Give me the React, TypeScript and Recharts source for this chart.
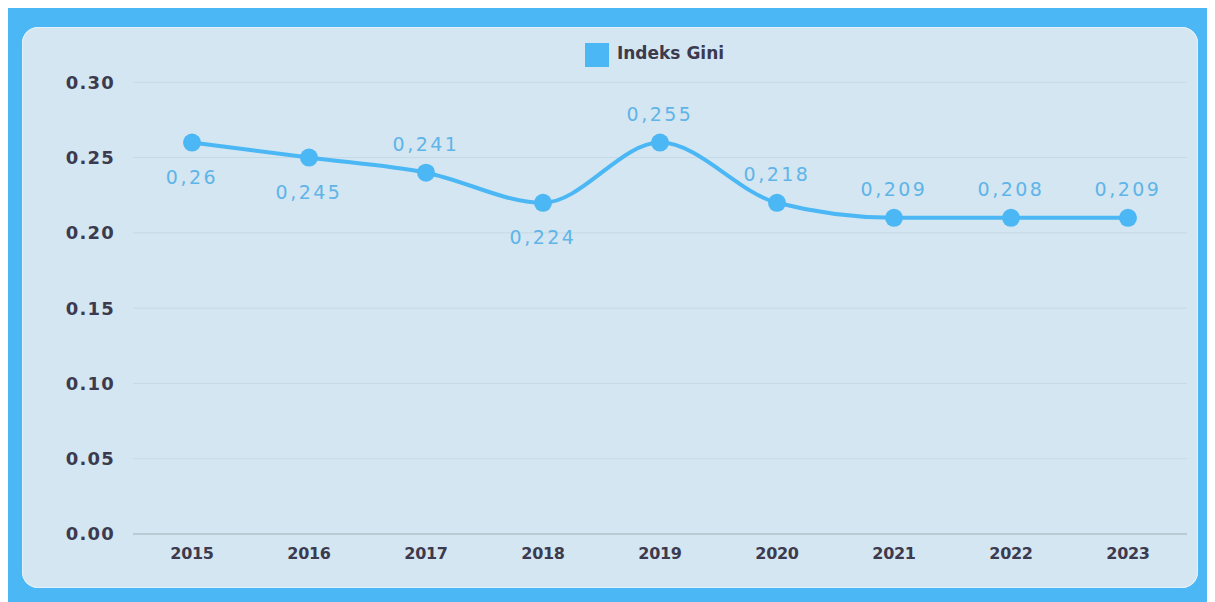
import React from "react";
import { LineChart, Line, XAxis, YAxis, CartesianGrid, Legend, LabelList } from "recharts";

const years = ["2015", "2016", "2017", "2018", "2019", "2020", "2021", "2022", "2023"];
// points sit on the 2-decimal values, the labels show the 3-decimal figure
const giniPlotted = [0.26, 0.25, 0.24, 0.22, 0.26, 0.22, 0.21, 0.21, 0.21];
const giniText = ["0,26", "0,245", "0,241", "0,224", "0,255", "0,218", "0,209", "0,208", "0,209"];
const yTicks = [0, 0.05, 0.1, 0.15, 0.2, 0.25, 0.3];

const data = years.map((year, i) => ({ year, gini: giniPlotted[i], text: giniText[i] }));

// which labels hang under their dot
const labelBelow = [true, true, false, true, false, false, false, false, false];

const BLUE = "#4bb7f4";
const INK = "#3c3a4e";

const GiniLabel = (props: any) => {
  const { x, y, index } = props;
  const below = labelBelow[index];
  return (
    <text
      x={x}
      y={below ? y + 36 : y - 27}
      textAnchor="middle"
      dominantBaseline="middle"
      fill="#5fb4e8"
      fontFamily="DejaVu Sans"
      fontSize={19}
      letterSpacing={2.5}
    >
      {giniText[index]}
    </text>
  );
};

export default function App() {
  return (
    <div style={{ width: 1207, height: 594, background: BLUE, position: "relative" }}>
      <style>{"body{overflow:hidden}"}</style>
      <div
        style={{
          position: "absolute",
          left: 14,
          top: 19,
          width: 1176,
          height: 561,
          background: "#d4e6f1",
          borderRadius: 16,
          boxShadow: "inset 0 0 0 1px #e2f1fa",
        }}
      >
        <LineChart width={1176} height={561} data={data} margin={{ top: 31, right: 11, left: 0, bottom: 0 }}>
          <CartesianGrid vertical={false} stroke="#c4d9e6" />
          <XAxis
            dataKey="year"
            padding={{ left: 59, right: 59 }}
            axisLine={{ stroke: "#a8b5be" }}
            tickLine={false}
            height={54}
            tickMargin={8}
            tick={{ fill: INK, fontFamily: "DejaVu Sans", fontWeight: 700, fontSize: 16, letterSpacing: -0.3 }}
          />
          <YAxis
            domain={[0, 0.3]}
            ticks={yTicks}
            tickFormatter={(v: number) => v.toFixed(2)}
            axisLine={false}
            tickLine={false}
            width={111}
            tickMargin={12}
            tick={{ fill: INK, fontFamily: "DejaVu Sans", fontWeight: 700, fontSize: 18, letterSpacing: 1.2 }}
          />
          <Legend
            verticalAlign="top"
            iconType="square"
            iconSize={24}
            wrapperStyle={{ left: 111, width: 1053, top: 16 }}
            formatter={(value: string) => (
              <span style={{ color: INK, fontFamily: "DejaVu Sans", fontWeight: 700, fontSize: 17, marginLeft: 4 }}>
                {value}
              </span>
            )}
          />
          <Line
            type="monotone"
            dataKey="gini"
            name="Indeks Gini"
            stroke={BLUE}
            strokeWidth={4}
            dot={{ r: 9, fill: BLUE, stroke: "none" }}
            activeDot={false}
            legendType="square"
            isAnimationActive={false}
          >
            <LabelList dataKey="text" content={<GiniLabel />} />
          </Line>
        </LineChart>
      </div>
    </div>
  );
}
